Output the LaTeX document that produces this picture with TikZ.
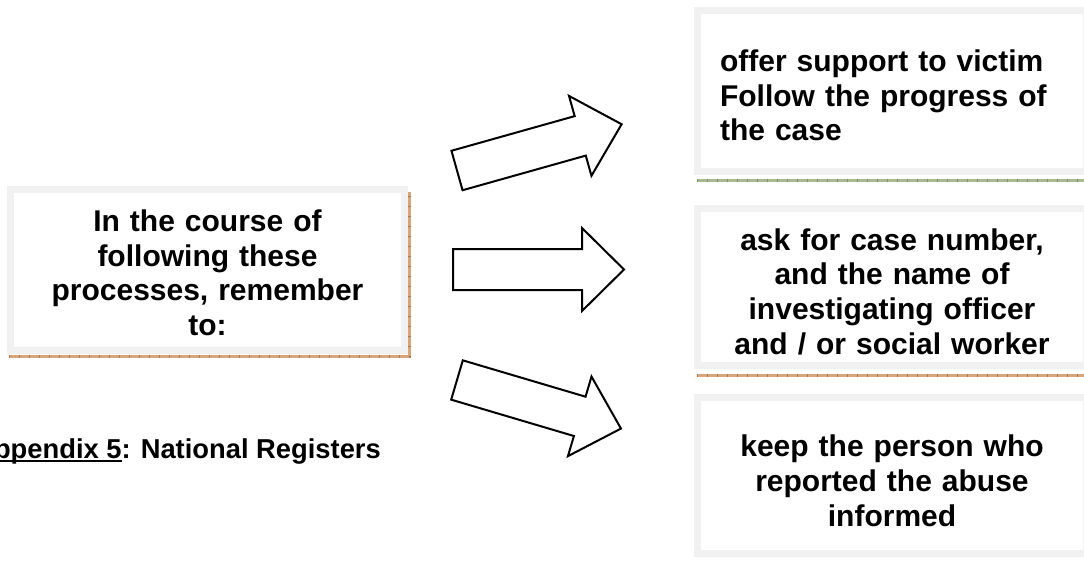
\documentclass[tikz,border=0pt]{standalone}
\usepackage{fontspec}
\setmainfont{Liberation Sans}
\usetikzlibrary{calc}
\definecolor{framegray}{HTML}{F1F1F1}
\definecolor{shadebrown}{HTML}{D9A57A}
\definecolor{shadegreen}{HTML}{A8BB8E}
\newcommand{\ulbold}[1]{\setbox0\hbox{#1}\rlap{\rule[-3.2pt]{\wd0}{1.4pt}}\box0}

\begin{document}
\begin{tikzpicture}[
  x=0.75pt, y=-0.75pt,
  box/.style={draw=framegray, line width=5.25pt, fill=white, inner sep=0pt,
    font=\fontsize{22.5}{26}\selectfont\bfseries},
  textdown/.style={execute at begin node={\rule{0pt}{#1}}},
  shadowline/.style={line width=2.25pt},
  tickline/.style={line width=2.25pt, dash pattern=on 0.75pt off 6.75pt, opacity=0.6},
  blockarrow/.style={draw=black, line width=1.5pt, line join=miter, fill=white}
  ]
	\useasboundingbox (0,0) rectangle (1084,560);

	\node[box, textdown=21pt, text width=250pt, align=center, minimum width=295.5pt, minimum height=120.75pt] (remember) at (207.5,269.5)
		{In the course of\\following these\\processes, remember\\to:};

	\node[box, textdown=23pt, text width=258pt, align=left, minimum width=291.75pt, minimum height=120.75pt] (support) at (892,91)
		{offer support to victim\\Follow the progress of\\the case};
	\node[box, textdown=23pt, text width=258pt, align=center, minimum width=291.75pt, minimum height=117.75pt] (casenumber) at (892,287)
		{ask for case number,\\and the name of\\investigating officer\\and / or social worker};
	\node[box, textdown=24pt, text width=258pt, align=center, minimum width=291.75pt, minimum height=117pt] (informed) at (892,475.5)
		{keep the person who\\reported the abuse\\informed};

	\node[anchor=base west, inner sep=0pt, font=\fontsize{20.5}{24}\selectfont\bfseries] (appendix) at (-26,458)
		{\ulbold{Appendix 5}: National Registers};

	% shadow lines under the boxes
	\draw[shadowline, shadebrown] ($(remember.south west)+(2,3)$) -- ($(remember.south east)+(1.5,3)$) -- ($(remember.north east)+(1.5,6)$);
	\draw[tickline, shadebrown!60!black] ($(remember.south west)+(2,3)$) -- ($(remember.south east)+(1.5,3)$) -- ($(remember.north east)+(1.5,6)$);
	\draw[shadowline, shadegreen] ($(support.south west)+(3,5)$) -- ($(support.south east)+(3,5)$);
	\draw[tickline, shadegreen!60!black] ($(support.south west)+(3,5)$) -- ($(support.south east)+(3,5)$);
	\draw[shadowline, shadebrown] ($(casenumber.south west)+(3,6)$) -- ($(casenumber.south east)+(3,6)$);
	\draw[tickline, shadebrown!60!black] ($(casenumber.south west)+(3,6)$) -- ($(casenumber.south east)+(3,6)$);

	% block arrows
	\draw[blockarrow, shift={(457,170.5)}, rotate=15.7]
		(0,-20.5) -- (128,-20.5) -- (128,-41.5) -- (171,0) -- (128,41.5) -- (128,20.5) -- (0,20.5) -- cycle;
	\draw[blockarrow, shift={(453,269.5)}]
		(0,-20.5) -- (129,-20.5) -- (129,-41.5) -- (171,0) -- (129,41.5) -- (129,20.5) -- (0,20.5) -- cycle;
	\draw[blockarrow, shift={(457,380)}, rotate=-16.5]
		(0,-20.5) -- (128,-20.5) -- (128,-41.5) -- (171,0) -- (128,41.5) -- (128,20.5) -- (0,20.5) -- cycle;
\end{tikzpicture}
\end{document}
